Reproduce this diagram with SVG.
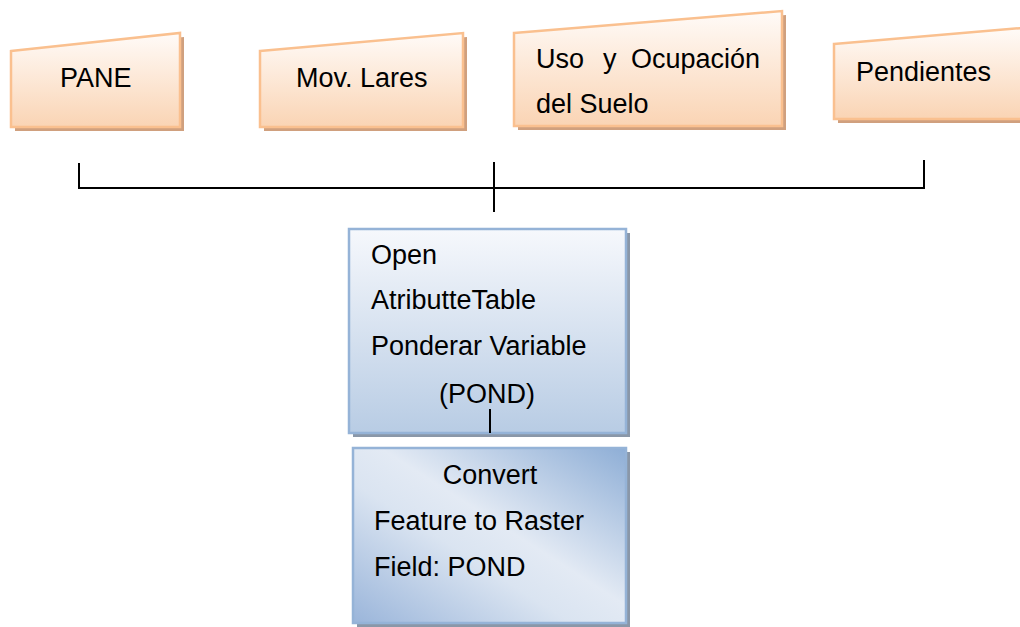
<svg xmlns="http://www.w3.org/2000/svg" width="1020" height="627" viewBox="0 0 1020 627">
<defs>
<linearGradient id="gOr" x1="0" y1="0" x2="0" y2="1">
<stop offset="0" stop-color="#fffbf8"/>
<stop offset="1" stop-color="#fad4b4"/>
</linearGradient>
<linearGradient id="gBl" x1="0" y1="0" x2="0" y2="1">
<stop offset="0" stop-color="#f6f8fc"/>
<stop offset="1" stop-color="#b8cce4"/>
</linearGradient>
<linearGradient id="gBl2" x1="1" y1="0" x2="0" y2="1">
<stop offset="0" stop-color="#8eaed6"/>
<stop offset="0.45" stop-color="#e3eaf4"/>
<stop offset="0.6" stop-color="#dae4f1"/>
<stop offset="1" stop-color="#9ab5da"/>
</linearGradient>
<style>
.or{fill:url(#gOr);stroke:#fac08f;stroke-width:2.5}
.ors{fill:#d0a07e}
.bl{fill:url(#gBl);stroke:#95b3d7;stroke-width:2.5}
.bl2{fill:url(#gBl2);stroke:#95b3d7;stroke-width:2.5}
.bls{fill:#8a97a8}
.t{font-family:"Liberation Sans",Arial,sans-serif;font-size:27px;fill:#000}
.ln{stroke:#000;stroke-width:2;fill:none}
</style>
</defs>
<g id="node-pane">
<polygon class="ors" points="15,55 184,37 184,131 15,131"/>
<polygon class="or" points="11,51 180,33 180,127 11,127"/>
<text class="t" x="60" y="87">PANE</text>
</g>
<g id="node-movlares">
<polygon class="ors" points="264,55 467,37 467,131 264,131"/>
<polygon class="or" points="260,51 463,33 463,127 260,127"/>
<text class="t" x="296" y="87">Mov. Lares</text>
</g>
<g id="node-uso">
<polygon class="ors" points="518,37 786,15 786,130 518,130"/>
<polygon class="or" points="514,33 782,11 782,126 514,126"/>
<text class="t" x="536" y="68">Uso</text>
<text class="t" x="603" y="68">y</text>
<text class="t" x="760" y="68" text-anchor="end">Ocupación</text>
<text class="t" x="536" y="113">del Suelo</text>
</g>
<g id="node-pendientes">
<polygon class="ors" points="838,48 1024,32 1024,123 838,123"/>
<polygon class="or" points="834,44 1022,28 1022,119 834,119"/>
<text class="t" x="856" y="81">Pendientes</text>
</g>
<g id="node-open">
<rect class="bls" x="353" y="233" width="277" height="204"/>
<rect class="bl" x="349" y="229" width="277" height="204"/>
<text class="t" x="371" y="264">Open</text>
<text class="t" x="371" y="309">AtributteTable</text>
<text class="t" x="371" y="355">Ponderar Variable</text>
<text class="t" x="487" y="403" text-anchor="middle">(POND)</text>
</g>
<g id="node-convert">
<rect class="bls" x="357" y="452" width="273" height="175"/>
<rect class="bl2" x="353" y="448" width="273" height="175"/>
<text class="t" x="490" y="484" text-anchor="middle">Convert</text>
<text class="t" x="374" y="530">Feature to Raster</text>
<text class="t" x="374" y="576">Field: POND</text>
</g>
<g id="connectors">
<path class="ln" d="M79 163 V188 H924 V160"/>
<path class="ln" d="M494 162 V212"/>
<path class="ln" d="M490 409 V433"/>
</g>
</svg>
